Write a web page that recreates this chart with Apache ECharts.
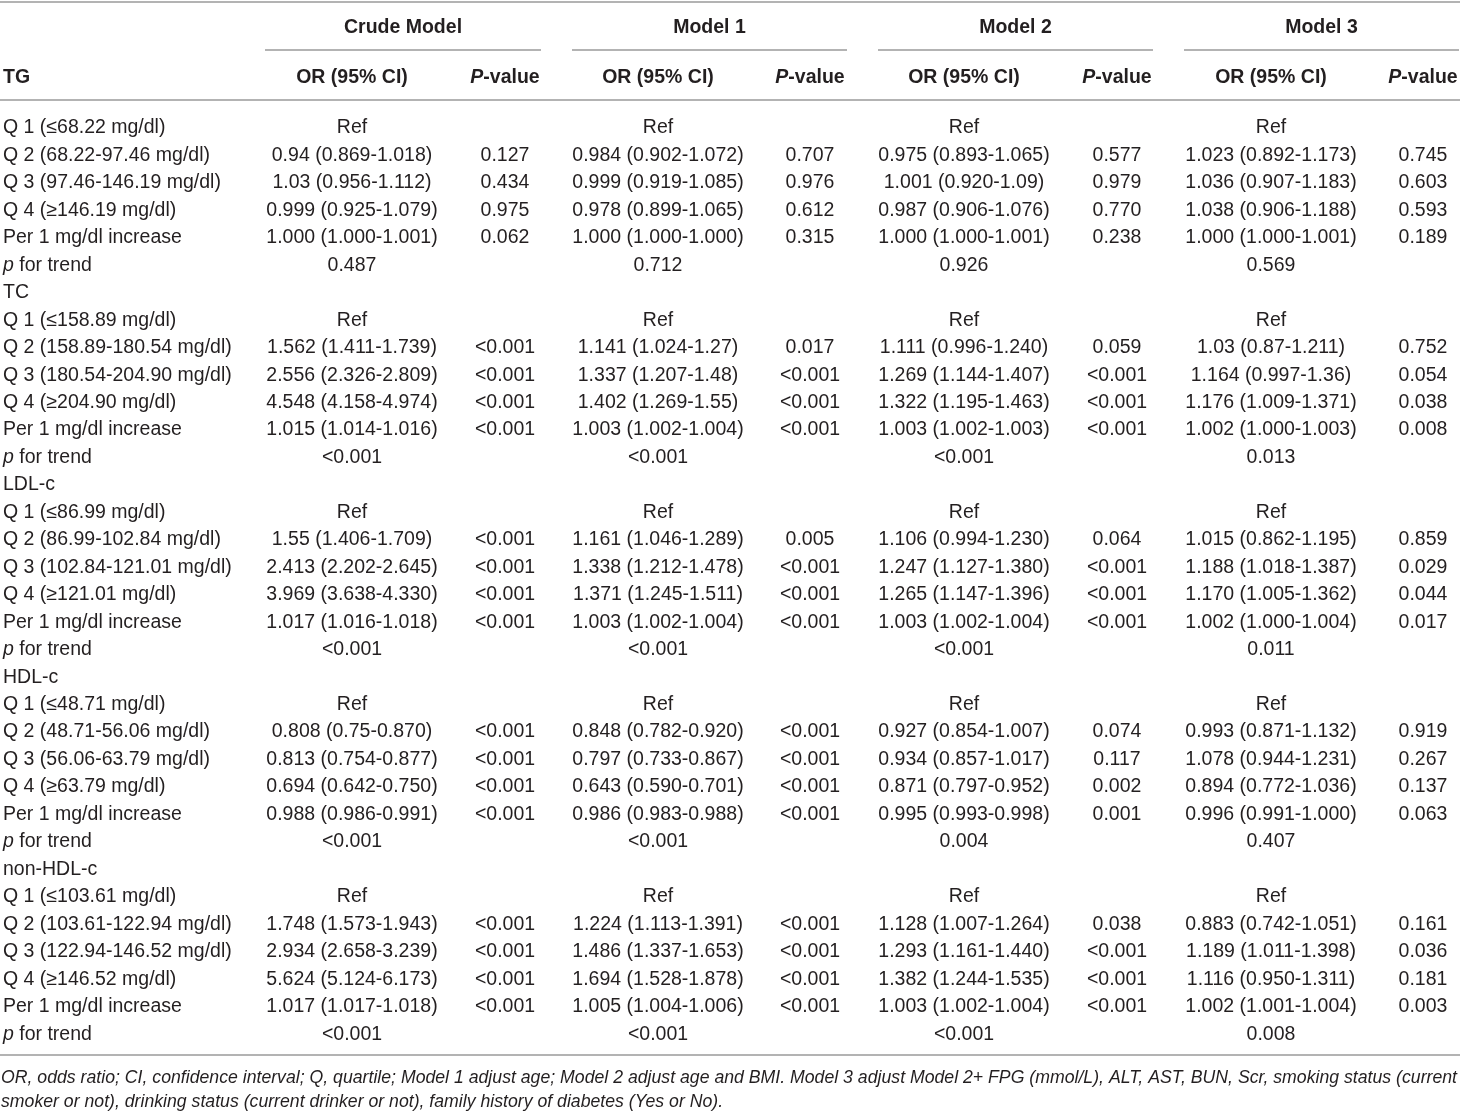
<!DOCTYPE html>
<html><head><meta charset="utf-8">
<script src="https://cdn.jsdelivr.net/npm/echarts/dist/echarts.min.js"></script>
<style>html,body{margin:0;padding:0;background:#fff}#c{width:1460px;height:1113px}</style>
</head><body><div id="c"></div>
<script>
// ---------- DATA ----------
const modelNames = ['Crude Model', 'Model 1', 'Model 2', 'Model 3'];
const firstGroup = 'TG';
const rowLabels = [
  'Q 1 (≤68.22 mg/dl)', 'Q 2 (68.22-97.46 mg/dl)', 'Q 3 (97.46-146.19 mg/dl)', 'Q 4 (≥146.19 mg/dl)', 'Per 1 mg/dl increase', '{i|p} for trend',
  'TC',
  'Q 1 (≤158.89 mg/dl)', 'Q 2 (158.89-180.54 mg/dl)', 'Q 3 (180.54-204.90 mg/dl)', 'Q 4 (≥204.90 mg/dl)', 'Per 1 mg/dl increase', '{i|p} for trend',
  'LDL-c',
  'Q 1 (≤86.99 mg/dl)', 'Q 2 (86.99-102.84 mg/dl)', 'Q 3 (102.84-121.01 mg/dl)', 'Q 4 (≥121.01 mg/dl)', 'Per 1 mg/dl increase', '{i|p} for trend',
  'HDL-c',
  'Q 1 (≤48.71 mg/dl)', 'Q 2 (48.71-56.06 mg/dl)', 'Q 3 (56.06-63.79 mg/dl)', 'Q 4 (≥63.79 mg/dl)', 'Per 1 mg/dl increase', '{i|p} for trend',
  'non-HDL-c',
  'Q 1 (≤103.61 mg/dl)', 'Q 2 (103.61-122.94 mg/dl)', 'Q 3 (122.94-146.52 mg/dl)', 'Q 4 (≥146.52 mg/dl)', 'Per 1 mg/dl increase', '{i|p} for trend'
];
const crudeOR = [
  'Ref','0.94 (0.869-1.018)','1.03 (0.956-1.112)','0.999 (0.925-1.079)','1.000 (1.000-1.001)','0.487',
  '',
  'Ref','1.562 (1.411-1.739)','2.556 (2.326-2.809)','4.548 (4.158-4.974)','1.015 (1.014-1.016)','<0.001',
  '',
  'Ref','1.55 (1.406-1.709)','2.413 (2.202-2.645)','3.969 (3.638-4.330)','1.017 (1.016-1.018)','<0.001',
  '',
  'Ref','0.808 (0.75-0.870)','0.813 (0.754-0.877)','0.694 (0.642-0.750)','0.988 (0.986-0.991)','<0.001',
  '',
  'Ref','1.748 (1.573-1.943)','2.934 (2.658-3.239)','5.624 (5.124-6.173)','1.017 (1.017-1.018)','<0.001'
];
const crudeP = [
  '','0.127','0.434','0.975','0.062','',
  '',
  '','<0.001','<0.001','<0.001','<0.001','',
  '',
  '','<0.001','<0.001','<0.001','<0.001','',
  '',
  '','<0.001','<0.001','<0.001','<0.001','',
  '',
  '','<0.001','<0.001','<0.001','<0.001',''
];
const m1OR = [
  'Ref','0.984 (0.902-1.072)','0.999 (0.919-1.085)','0.978 (0.899-1.065)','1.000 (1.000-1.000)','0.712',
  '',
  'Ref','1.141 (1.024-1.27)','1.337 (1.207-1.48)','1.402 (1.269-1.55)','1.003 (1.002-1.004)','<0.001',
  '',
  'Ref','1.161 (1.046-1.289)','1.338 (1.212-1.478)','1.371 (1.245-1.511)','1.003 (1.002-1.004)','<0.001',
  '',
  'Ref','0.848 (0.782-0.920)','0.797 (0.733-0.867)','0.643 (0.590-0.701)','0.986 (0.983-0.988)','<0.001',
  '',
  'Ref','1.224 (1.113-1.391)','1.486 (1.337-1.653)','1.694 (1.528-1.878)','1.005 (1.004-1.006)','<0.001'
];
const m1P = [
  '','0.707','0.976','0.612','0.315','',
  '',
  '','0.017','<0.001','<0.001','<0.001','',
  '',
  '','0.005','<0.001','<0.001','<0.001','',
  '',
  '','<0.001','<0.001','<0.001','<0.001','',
  '',
  '','<0.001','<0.001','<0.001','<0.001',''
];
const m2OR = [
  'Ref','0.975 (0.893-1.065)','1.001 (0.920-1.09)','0.987 (0.906-1.076)','1.000 (1.000-1.001)','0.926',
  '',
  'Ref','1.111 (0.996-1.240)','1.269 (1.144-1.407)','1.322 (1.195-1.463)','1.003 (1.002-1.003)','<0.001',
  '',
  'Ref','1.106 (0.994-1.230)','1.247 (1.127-1.380)','1.265 (1.147-1.396)','1.003 (1.002-1.004)','<0.001',
  '',
  'Ref','0.927 (0.854-1.007)','0.934 (0.857-1.017)','0.871 (0.797-0.952)','0.995 (0.993-0.998)','0.004',
  '',
  'Ref','1.128 (1.007-1.264)','1.293 (1.161-1.440)','1.382 (1.244-1.535)','1.003 (1.002-1.004)','<0.001'
];
const m2P = [
  '','0.577','0.979','0.770','0.238','',
  '',
  '','0.059','<0.001','<0.001','<0.001','',
  '',
  '','0.064','<0.001','<0.001','<0.001','',
  '',
  '','0.074','0.117','0.002','0.001','',
  '',
  '','0.038','<0.001','<0.001','<0.001',''
];
const m3OR = [
  'Ref','1.023 (0.892-1.173)','1.036 (0.907-1.183)','1.038 (0.906-1.188)','1.000 (1.000-1.001)','0.569',
  '',
  'Ref','1.03 (0.87-1.211)','1.164 (0.997-1.36)','1.176 (1.009-1.371)','1.002 (1.000-1.003)','0.013',
  '',
  'Ref','1.015 (0.862-1.195)','1.188 (1.018-1.387)','1.170 (1.005-1.362)','1.002 (1.000-1.004)','0.011',
  '',
  'Ref','0.993 (0.871-1.132)','1.078 (0.944-1.231)','0.894 (0.772-1.036)','0.996 (0.991-1.000)','0.407',
  '',
  'Ref','0.883 (0.742-1.051)','1.189 (1.011-1.398)','1.116 (0.950-1.311)','1.002 (1.001-1.004)','0.008'
];
const m3P = [
  '','0.745','0.603','0.593','0.189','',
  '',
  '','0.752','0.054','0.038','0.008','',
  '',
  '','0.859','0.029','0.044','0.017','',
  '',
  '','0.919','0.267','0.137','0.063','',
  '',
  '','0.161','0.036','0.181','0.003',''
];
const footnote1 = 'OR, odds ratio; CI, confidence interval; Q, quartile; Model 1 adjust age; Model 2 adjust age and BMI. Model 3 adjust Model 2+ FPG (mmol/L), ALT, AST, BUN, Scr, smoking status (current';
const footnote2 = 'smoker or not), drinking status (current drinker or not), family history of diabetes (Yes or No).';

// ---------- LAYOUT ----------
const W = 1460;
const FONT = '"Liberation Sans", Arial, sans-serif';
const FS = 19.5;
const TXT = '#231f20';
const RULE = '#9a9a9a';
const labelX = 3;
const orX = [352, 658, 964, 1271];
const pX = [505, 810, 1117, 1423];
const spans = [[265, 541], [572, 847], [878, 1153], [1184, 1459]];
const cols = [
  { x: labelX, align: 'left', vals: rowLabels },
  { x: orX[0], align: 'center', vals: crudeOR }, { x: pX[0], align: 'center', vals: crudeP },
  { x: orX[1], align: 'center', vals: m1OR }, { x: pX[1], align: 'center', vals: m1P },
  { x: orX[2], align: 'center', vals: m2OR }, { x: pX[2], align: 'center', vals: m2P },
  { x: orX[3], align: 'center', vals: m3OR }, { x: pX[3], align: 'center', vals: m3P }
];
const cells = [];
cols.forEach(c => c.vals.forEach((t, r) => { if (t) cells.push({ value: [c.x, r], text: t, align: c.align }); }));

const rich = { i: { fontStyle: 'italic', fontSize: FS, fontFamily: FONT, fill: TXT, color: TXT } };

const graphic = [];
const hline = (y, x1, x2) => graphic.push({ type: 'line', shape: { x1, y1: y, x2, y2: y }, style: { stroke: RULE, lineWidth: 1.6 }, silent: true });
hline(2, 0, W); hline(100, 0, W); hline(1055, 0, W);
spans.forEach(s => hline(50, s[0], s[1]));
const htext = (x, y, text, align, extra) => graphic.push({ type: 'text', x, y, style: Object.assign({ text, align, verticalAlign: 'middle', font: 'bold ' + FS + 'px ' + FONT, fill: TXT }, extra || {}) });
modelNames.forEach((m, k) => htext((spans[k][0] + spans[k][1]) / 2, 28, m, 'center'));
htext(labelX, 78, firstGroup, 'left');
orX.forEach(x => htext(x, 78, 'OR (95% CI)', 'center'));
pX.forEach(x => htext(x, 78, '{i|P}-value', 'center', { rich: { i: { fontStyle: 'italic', fontWeight: 'bold', fontSize: FS, fontFamily: FONT, fill: TXT } } }));

// footnote: fit the first line to the table width
const FN_FONT = 'italic 19px ' + FONT;
const mc = document.createElement('canvas').getContext('2d');
mc.font = FN_FONT;
const fnScale = 1456 / mc.measureText(footnote1).width;
const ftext = (y, text) => graphic.push({ type: 'text', x: 1, y, scaleX: fnScale, style: { text, align: 'left', verticalAlign: 'middle', font: FN_FONT, fill: TXT } });
ftext(1078, footnote1); ftext(1102, footnote2);

const chart = echarts.init(document.getElementById('c'), null, { renderer: 'canvas' });
chart.setOption({
  backgroundColor: '#fff',
  animation: false,
  grid: { left: 0, right: 0, top: 114.3, height: 933.6 },
  xAxis: { type: 'value', min: 0, max: W, show: false },
  yAxis: { type: 'category', inverse: true, show: false, data: rowLabels.map((_, i) => String(i)) },
  graphic,
  series: [{
    type: 'custom',
    data: cells.map(c => c.value),
    renderItem: (params, api) => {
      const c = cells[params.dataIndex];
      const p = api.coord([api.value(0), api.value(1)]);
      return {
        type: 'text', x: p[0], y: p[1],
        style: { text: c.text, align: c.align, verticalAlign: 'middle', font: FS + 'px ' + FONT, fill: TXT, rich }
      };
    }
  }]
});
</script></body></html>
